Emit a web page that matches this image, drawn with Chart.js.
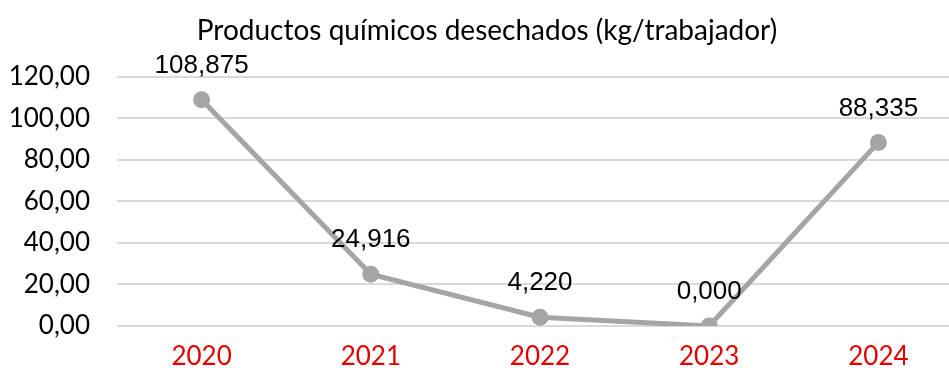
<!DOCTYPE html>
<html lang="es">
<head>
<meta charset="UTF-8">
<title>Productos químicos desechados</title>
<script src="https://cdn.jsdelivr.net/npm/chart.js"></script>
<style>
  html, body { margin: 0; padding: 0; background: #fff; overflow: hidden; }
  .chart-box { position: relative; width: 974px; height: 372px; }
</style>
</head>
<body>
<div class="chart-box">
  <canvas id="quimicosChart"></canvas>
</div>
<script>
  // datos anuales
  const years = ['2020', '2021', '2022', '2023', '2024'];
  const kgPorTrabajador = [108.875, 24.916, 4.220, 0.000, 88.335];
  const yTicks = [0, 20, 40, 60, 80, 100, 120];

  const fmt = (v, d) => v.toFixed(d).replace('.', ',');

  // etiquetas de valor encima de cada punto
  const valueLabels = {
    id: 'valueLabels',
    afterDatasetsDraw(chart) {
      const ctx = chart.ctx;
      const meta = chart.getDatasetMeta(0);
      ctx.save();
      ctx.font = '26px "Liberation Sans", Arial, sans-serif';
      ctx.fillStyle = '#000';
      ctx.textAlign = 'center';
      ctx.textBaseline = 'middle';
      meta.data.forEach((pt, i) => {
        ctx.fillText(fmt(kgPorTrabajador[i], 3), pt.x, pt.y - 34);
      });
      ctx.restore();
    }
  };

  new Chart(document.getElementById('quimicosChart'), {
    type: 'line',
    data: {
      labels: years,
      datasets: [{
        data: kgPorTrabajador,
        borderColor: '#a5a5a5',
        backgroundColor: '#a5a5a5',
        borderWidth: 5,
        pointRadius: 6,
        pointHoverRadius: 6,
        tension: 0
      }]
    },
    options: {
      responsive: true,
      maintainAspectRatio: false,
      animation: false,
      layout: { padding: 0 },
      plugins: {
        legend: { display: false },
        tooltip: { enabled: false },
        title: {
          display: true,
          text: 'Productos químicos desechados (kg/trabajador)',
          color: '#000',
          font: { family: 'Lato', size: 28, weight: 'normal' },
          padding: { top: 14, bottom: 29 }
        }
      },
      scales: {
        x: {
          offset: true,
          grid: { display: false },
          border: { display: false },
          ticks: {
            color: '#e00000',
            font: { family: 'Lato', size: 26 },
            padding: 7
          },
          afterFit(scale) { scale.height = 46; }
        },
        y: {
          min: 0,
          max: 120,
          afterBuildTicks(scale) { scale.ticks = yTicks.map(v => ({ value: v })); },
          grid: { color: '#d9d9d9', lineWidth: 2, drawTicks: false },
          border: { display: false },
          ticks: {
            color: '#000',
            font: { family: 'Lato', size: 26 },
            padding: 27,
            callback: v => fmt(v, 2)
          },
          afterFit(scale) { scale.width = 117; }
        }
      }
    },
    plugins: [valueLabels]
  });
</script>
</body>
</html>
